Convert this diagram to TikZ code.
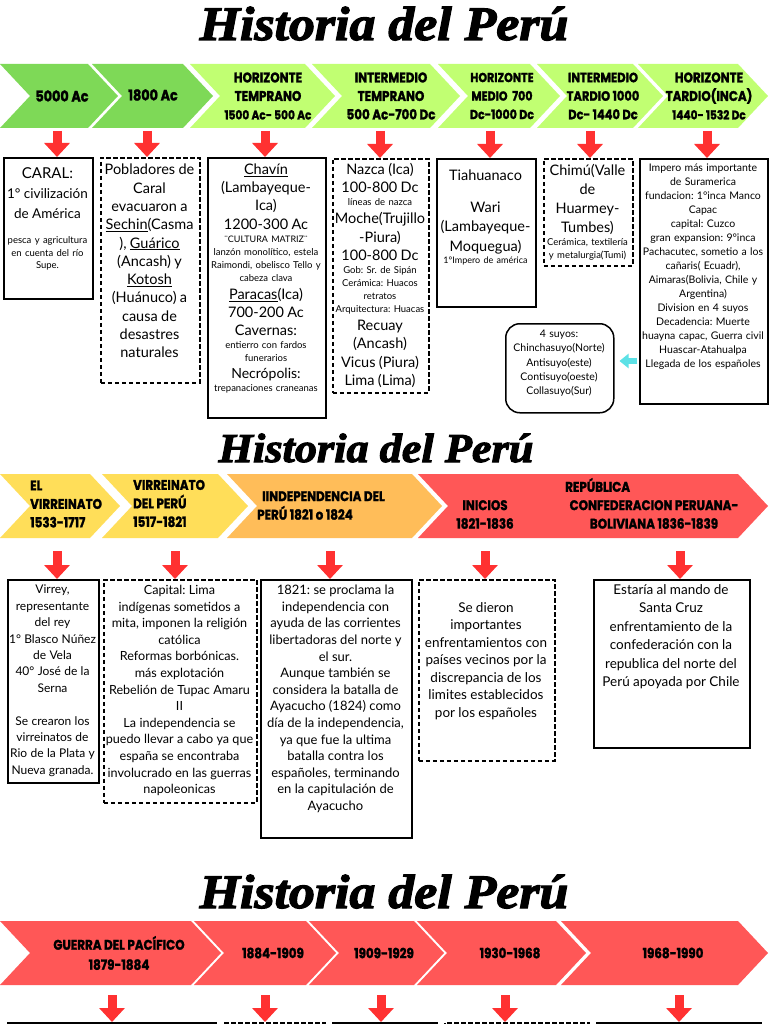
\documentclass[tikz,border=0pt]{standalone}
\usepackage{fontspec}
\usepackage{graphicx}
\setmainfont{Lato}
\newfontfamily\titlefont{Liberation Serif}[BoldItalicFeatures={FakeBold=2.5}]
\newfontfamily\chevfont{Poppins}[BoldFeatures={FakeBold=1.5,FakeStretch=0.85}]
\usetikzlibrary{arrows.meta,calc}
\setlength{\parindent}{0pt}
\definecolor{gdark}{HTML}{7ED957}
\definecolor{glight}{HTML}{C1FF72}
\definecolor{yel}{HTML}{FFDE59}
\definecolor{ora}{HTML}{FFBD59}
\definecolor{redc}{HTML}{FF5757}
\definecolor{arrowred}{HTML}{FF3131}
\definecolor{cyanc}{HTML}{5CE1E6}
\newcommand\bxl[3]{{\fontsize{#1}{#2}\selectfont #3\par}}
\newcommand\chevshape[6]{\fill[#5] (#1,#3) -- ({#2-#6},#3) -- (#2,{(#3+#4)/2}) -- ({#2-#6},#4) -- (#1,#4) -- ({#1+#6},{(#3+#4)/2}) -- cycle;}
\newcommand\bxnode[6]{\node[#2, minimum width={(#5-#3)*1pt}, minimum height={(#6-#4)*1pt}] (#1) at (#3,#4) {};}
\begin{document}
\frenchspacing
\begin{tikzpicture}[x=1pt,y=-1pt,
  solidbox/.style={draw=black, line width=1.8pt, inner sep=0pt, anchor=north west},
  dashbox/.style={draw=black, line width=1.8pt, dash pattern=on 4.5pt off 2.5pt, inner sep=0pt, anchor=north west},
  btxt/.style={anchor=north, align=center, inner sep=0pt},
  chev/.style={font=\chevfont\bfseries\fontsize{14}{18.5}\selectfont, align=center, inner sep=0pt},
  redarrow/.style={draw=arrowred, line width=9pt, -{Triangle[width=25pt,length=14pt]}},
  bigtitle/.style={anchor=base, inner sep=0pt}
]
\useasboundingbox (0,0) rectangle (768,1024);
\fill[white] (0,0) rectangle (768,1024);

% ---------- Section 1 ----------
\node[bigtitle, font=\titlefont\bfseries\itshape\fontsize{48}{50}\selectfont] (title1) at (384,40) {\scalebox{1.08}[1]{Historia del Perú}};

\chevshape{0}{118}{64}{128}{gdark}{30}
\chevshape{92}{213}{64}{128}{gdark}{30}
\chevshape{190}{335}{64}{128}{glight}{30}
\chevshape{312}{460}{64}{128}{glight}{30}
\chevshape{438}{560}{64}{128}{glight}{30}
\chevshape{537}{663}{64}{128}{glight}{30}
\chevshape{638}{768}{64}{128}{glight}{30}

\node[chev, font=\chevfont\bfseries\fontsize{15}{18.5}\selectfont] (c1) at (62,96) {5000 Ac};
\node[chev, font=\chevfont\bfseries\fontsize{15}{18.5}\selectfont] (c2) at (153,95) {1800 Ac};
\node[chev] (c3) at (268,96) {HORIZONTE\\TEMPRANO\\{\fontsize{12.5}{18.5}\selectfont 1500 Ac- 500 Ac}};
\node[chev] (c4) at (391,96) {INTERMEDIO\\TEMPRANO\\500 Ac-700 Dc};
\node[chev, font=\chevfont\bfseries\fontsize{13}{18.5}\selectfont] (c5) at (502,96) {HORIZONTE\\MEDIO\ \ 700\\Dc-1000 Dc};
\node[chev, font=\chevfont\bfseries\fontsize{13.5}{18.5}\selectfont] (c6) at (603,96) {INTERMEDIO\\TARDIO 1000\\Dc- 1440 Dc};
\node[chev] (c7) at (709,96) {HORIZONTE\\TARDIO(INCA)\\{\fontsize{12.5}{18.5}\selectfont 1440- 1532 Dc}};

\bxnode{b1}{solidbox}{3}{157}{92}{298}
\bxnode{b2}{dashbox}{100}{157}{199}{382}
\bxnode{b3}{solidbox}{207}{157}{325}{417}
\bxnode{b4}{dashbox}{332}{158}{428}{392}
\bxnode{b5}{solidbox}{436}{158}{535}{306}
\bxnode{b6}{dashbox}{543}{158}{632}{265}
\bxnode{b7}{solidbox}{639}{158}{767}{403}
\node[draw=black, line width=1.5pt, rounded corners=14pt, inner sep=0pt, anchor=north west, minimum width=108pt, minimum height=89pt] (suyos) at (505,323) {};

\node[btxt, text width=120pt] (t1) at (47.5,167) {%
\bxl{15}{18}{CARAL:}%
\bxl{13.5}{20}{1° civilización\\de América}%
\vspace{13pt}%
\bxl{9.5}{12.5}{pesca y agricultura\\en cuenta del río\\Supe.}};

\node[btxt, text width=130pt] (t2) at (149.5,164) {%
\bxl{14.5}{18.3}{Pobladores de\\Caral\\evacuaron a\\\underline{Sechin}(Casma\\), \underline{Guárico}\\(Ancash) y\\\underline{Kotosh}\\(Huánuco) a\\causa de\\desastres\\naturales}};

\node[btxt, text width=150pt] (t3) at (266,163.5) {%
\bxl{14.5}{18.3}{\underline{Chavín}\\(Lambayeque-\\Ica)\\1200-300 Ac}%
\bxl{9}{13}{¨CULTURA MATRIZ¨}%
\bxl{9.5}{13}{lanzón monolítico, estela\\Raimondi, obelisco Tello y\\cabeza clava}%
\bxl{14.5}{18}{\underline{Paracas}(Ica)\\700-200 Ac\\Cavernas:}%
\bxl{9.5}{13}{entierro con fardos\\funerarios}%
\bxl{14}{17.5}{Necrópolis:}%
\bxl{9.5}{13}{trepanaciones craneanas}};

\node[btxt, text width=130pt] (t4) at (380,163) {%
\bxl{14.5}{18}{Nazca (Ica)\\100-800 Dc}%
\bxl{9.5}{13}{líneas de nazca}%
\bxl{14.5}{18.5}{Moche(Trujillo\\-Piura)\\100-800 Dc}%
\bxl{9.5}{12.8}{Gob: Sr. de Sipán\\Cerámica: Huacos\\retratos\\Arquitectura: Huacas}%
\bxl{14.5}{18.3}{Recuay\\(Ancash)\\Vicus (Piura)\\Lima (Lima)}};

\node[btxt, text width=130pt] (t5) at (485.5,169.5) {%
\bxl{14.5}{19}{Tiahuanaco}%
\vspace{13pt}%
\bxl{14.5}{19.3}{Wari\\(Lambayeque-\\Moquegua)}%
\bxl{9}{12}{1°Impero de américa}};

\node[btxt, text width=120pt] (t6) at (587.5,164.5) {%
\bxl{14.5}{18.7}{Chimú(Valle\\de\\Huarmey-\\Tumbes)}%
\bxl{9.5}{13}{Cerámica, textilería\\y metalurgia(Tumi)}};

\node[btxt, text width=150pt] (t7) at (703,164) {%
\bxl{10.5}{14}{Impero más importante\\de Suramerica\\fundacion: 1°inca Manco\\Capac\\capital: Cuzco\\gran expansion: 9°inca\\Pachacutec, sometio a los\\cañaris( Ecuadr),\\Aimaras(Bolivia, Chile y\\Argentina)\\Division en 4 suyos\\Decadencia: Muerte\\huayna capac, Guerra civil\\Huascar-Atahualpa\\Llegada de los españoles}};

\node[btxt, text width=130pt] (t8) at (559,330) {%
\bxl{10.5}{14.2}{4 suyos:\\Chinchasuyo(Norte)\\Antisuyo(este)\\Contisuyo(oeste)\\Collasuyo(Sur)}};

\coordinate (cy) at (637,361);
\draw[cyanc, line width=6pt, -{Triangle[width=14pt,length=9pt]}] (cy) -- ([xshift=5pt]suyos.east |- cy);

\coordinate (a1) at (57,131);
\coordinate (a2) at (147,131);
\coordinate (a3) at (265,131);
\coordinate (a4) at (380,131);
\coordinate (a5) at (490,131);
\coordinate (a6) at (590,131);
\coordinate (a7) at (707,131);
\draw[redarrow] (a1) -- (a1 |- b1.north);
\draw[redarrow] (a2) -- (a2 |- b2.north);
\draw[redarrow] (a3) -- (a3 |- b3.north);
\draw[redarrow] (a4) -- (a4 |- b4.north);
\draw[redarrow] (a5) -- (a5 |- b5.north);
\draw[redarrow] (a6) -- (a6 |- b6.north);
\draw[redarrow] (a7) -- (a7 |- b7.north);

% ---------- Section 2 ----------
\node[bigtitle, font=\titlefont\bfseries\itshape\fontsize{41}{43}\selectfont] (title2) at (376,462) {\scalebox{1.08}[1]{Historia del Perú}};

\chevshape{0}{120}{474}{538}{yel}{30}
\chevshape{102}{248}{474}{538}{yel}{30}
\chevshape{227}{442}{474}{538}{ora}{30}
\chevshape{418}{768}{474}{538}{redc}{30}

\node[chev, anchor=west, align=left] (d1) at (30,504) {EL\\VIRREINATO\\1533-1717};
\node[chev, anchor=west, align=left] (d2) at (133,503.5) {VIRREINATO\\DEL PERÚ\\1517-1821};
\node[chev, anchor=west, align=left] (d3) at (257,505.5) {\hspace*{5pt}IINDEPENDENCIA DEL\\PERÚ 1821 o 1824};
\node[chev] (d4) at (485,514.5) {INICIOS\\1821-1836};
\node[chev, anchor=west] (d5) at (565,485) {REPÚBLICA};
\node[chev] (d6) at (654,514.5) {CONFEDERACION PERUANA-\\BOLIVIANA 1836-1839};

\bxnode{g1}{solidbox}{7}{579}{98}{782}
\bxnode{g2}{dashbox}{103}{579}{256}{802}
\bxnode{g3}{solidbox}{260}{579}{411}{837}
\bxnode{g4}{dashbox}{418}{579}{554}{760}
\bxnode{g5}{solidbox}{593}{579}{749}{747}

\node[btxt, text width=110pt] (u1) at (52.5,585) {%
\bxl{12}{16.4}{Virrey,\\representante\\del rey\\1° Blasco Núñez\\de Vela\\40° José de la\\Serna}%
\vspace{16.4pt}%
\bxl{12}{16.4}{Se crearon los\\virreinatos de\\Rio de la Plata y\\Nueva granada.}};

\node[btxt, text width=170pt] (u2) at (179.5,585) {%
\bxl{12.6}{16.6}{Capital: Lima\\indígenas sometidos a\\mita, imponen la religión\\católica\\Reformas borbónicas.\\más explotación\\Rebelión de Tupac Amaru\\II\\La independencia se\\puedo llevar a cabo ya que\\españa se encontraba\\involucrado en las guerras\\napoleonicas}};

\node[btxt, text width=170pt] (u3) at (335.5,585) {%
\bxl{13}{16.6}{1821: se proclama la\\independencia con\\ayuda de las corrientes\\libertadoras del norte y\\el sur.\\Aunque también se\\considera la batalla de\\Ayacucho (1824) como\\día de la independencia,\\ya que fue la ultima\\batalla contra los\\españoles, terminando\\en la capitulación de\\Ayacucho}};

\node[btxt, text width=160pt] (u4) at (486,602) {%
\bxl{13.5}{17.5}{Se dieron\\importantes\\enfrentamientos con\\países vecinos por la\\discrepancia de los\\limites establecidos\\por los españoles}};

\node[btxt, text width=180pt] (u5) at (671,584) {%
\bxl{13.5}{18.5}{Estaría al mando de\\Santa Cruz\\enfrentamiento de la\\confederación con la\\republica del norte del\\Perú apoyada por Chile}};

\coordinate (e1) at (57,551);
\coordinate (e2) at (175,551);
\coordinate (e3) at (330,551);
\coordinate (e4) at (485,551);
\coordinate (e5) at (680,551);
\draw[redarrow] (e1) -- (e1 |- g1.north);
\draw[redarrow] (e2) -- (e2 |- g2.north);
\draw[redarrow] (e3) -- (e3 |- g3.north);
\draw[redarrow] (e4) -- (e4 |- g4.north);
\draw[redarrow] (e5) -- (e5 |- g5.north);

% ---------- Section 3 ----------
\node[bigtitle, font=\titlefont\bfseries\itshape\fontsize{48}{50}\selectfont] (title3) at (384,908) {\scalebox{1.08}[1]{Historia del Perú}};

\chevshape{0}{221}{921}{985}{redc}{30}
\chevshape{194}{336}{921}{985}{redc}{30}
\chevshape{309}{444}{921}{985}{redc}{30}
\chevshape{417}{586}{921}{985}{redc}{30}
\chevshape{561}{768}{921}{985}{redc}{30}

\node[chev, font=\chevfont\bfseries\fontsize{14}{20}\selectfont] (f1) at (119,953) {GUERRA DEL PACÍFICO\\1879-1884};
\node[chev, font=\chevfont\bfseries\fontsize{14}{20}\selectfont] (f2) at (273,953) {1884-1909};
\node[chev, font=\chevfont\bfseries\fontsize{14}{20}\selectfont] (f3) at (384,953) {1909-1929};
\node[chev, font=\chevfont\bfseries\fontsize{14}{20}\selectfont] (f4) at (510,953) {1930-1968};
\node[chev, font=\chevfont\bfseries\fontsize{14}{20}\selectfont] (f5) at (673,953) {1968-1990};

\begin{scope}
\clip (0,0) rectangle (768,1024);
\bxnode{r1}{solidbox}{7}{1022}{215}{1070}
\bxnode{r2}{dashbox}{223}{1022}{324}{1070}
\bxnode{r3}{solidbox}{332}{1022}{436}{1070}
\bxnode{r4}{dashbox}{444}{1022}{588}{1070}
\bxnode{r5}{solidbox}{596}{1022}{760}{1070}
\end{scope}

\coordinate (h1) at (112,995);
\coordinate (h2) at (265,995);
\coordinate (h3) at (381,995);
\coordinate (h4) at (505,995);
\coordinate (h5) at (679,995);
\draw[redarrow] (h1) -- (h1 |- r1.north);
\draw[redarrow] (h2) -- (h2 |- r2.north);
\draw[redarrow] (h3) -- (h3 |- r3.north);
\draw[redarrow] (h4) -- (h4 |- r4.north);
\draw[redarrow] (h5) -- (h5 |- r5.north);
\end{tikzpicture}
\end{document}
